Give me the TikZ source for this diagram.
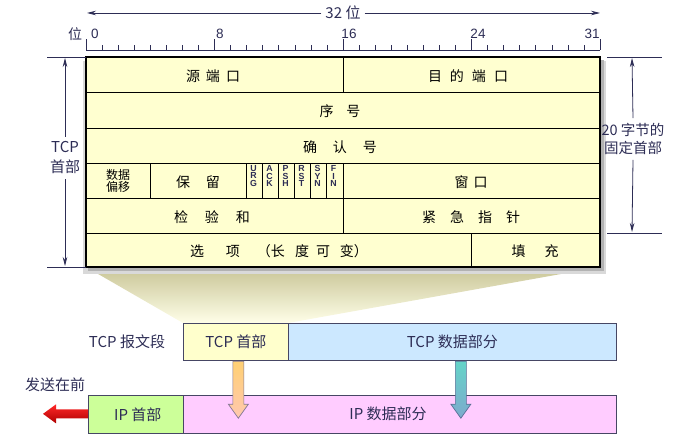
\documentclass[tikz,border=0pt]{standalone}
\usepackage{fontspec}
\setmainfont{Noto Sans CJK SC}
\newfontfamily\flagfont{Liberation Sans}
\usetikzlibrary{arrows.meta,calc}
\definecolor{boxfill}{RGB}{255,255,208}
\definecolor{navy}{RGB}{45,45,85}
\definecolor{tcphead}{RGB}{255,255,204}
\definecolor{tcpdata}{RGB}{204,232,255}
\definecolor{iphead}{RGB}{204,255,153}
\definecolor{ipdata}{RGB}{255,204,255}
\definecolor{edgecol}{RGB}{70,70,100}
\newcommand\gp[1]{\hspace{#1pt}}
\begin{document}
\begin{tikzpicture}[x=1pt,y=-1pt,
  cell/.style={font=\fontsize{14}{16}\selectfont, text=black, inner sep=0pt},
  smallcell/.style={font=\fontsize{12}{12.5}\selectfont, text=black, inner sep=0pt, align=center},
  lbl/.style={font=\fontsize{15}{17}\selectfont, text=navy, inner sep=0pt},
  num/.style={font=\flagfont\fontsize{13.5}{15}\selectfont, text=navy, inner sep=0pt},
  flag/.style={font=\flagfont\bfseries\fontsize{8.8}{7.9}\selectfont, text=navy, align=center, inner sep=0pt},
  dim/.style={navy, line width=0.8pt},
  dimarrow/.style={dim, -{Stealth[length=9pt,width=4.5pt]}},
  gridline/.style={black, line width=0.9pt},
  seg/.style={draw=edgecol, line width=0.7pt, minimum height=37pt, anchor=north west, inner sep=0pt, lbl},
]
\useasboundingbox (0,0) rectangle (677,441);

% fan-out trapezoid
\shade[top color={rgb,255:red,200;green,197;blue,150},
       middle color={rgb,255:red,240;green,238;blue,192},
       bottom color={rgb,255:red,255;green,254;blue,232}]
  (86,267) -- (600,267) -- (288,323) -- (183,323) -- cycle;

% shadow of header box
\fill[gray!30] (83,61) rectangle (606,274);
\fill[gray!60] (88,60) rectangle (604,271);

% header box
\filldraw[fill=boxfill, draw=black, line width=1.6pt] (86,57) rectangle (600,267);
\foreach \yy in {92,128,163,198,233}{\draw[gridline] (86,\yy) -- (600,\yy);}
\draw[gridline] (343,57) -- (343,92);
\draw[gridline] (343,198) -- (343,233);
\draw[gridline] (471.5,233) -- (471.5,267);
\foreach \i in {4,10,11,12,13,14,15,16}{
  \pgfmathsetmacro\xx{86+\i*16.0625}
  \draw[gridline] (\xx,163) -- (\xx,198);
}

% field texts
\node[cell] (src) at (213,76) {源\gp{6}端\gp{6}口};
\node[cell] (dst) at (468,76) {目\gp{8}的\gp{8}端\gp{8}口};
\node[cell] (seq) at (340,111) {序\gp{13}号};
\node[cell] (ack) at (340,147) {确\gp{16}认\gp{16}号};
\node[smallcell] (off) at (118,181) {数据\\偏移};
\node[cell] (res) at (198,182) {保\gp{16}留};
\node[flag] (furg) at (253.5,176) {U\\R\\G};
\node[flag] (fack) at (269.5,176) {A\\C\\K};
\node[flag] (fpsh) at (285.5,176) {P\\S\\H};
\node[flag] (frst) at (301.5,176) {R\\S\\T};
\node[flag] (fsyn) at (317.5,176) {S\\Y\\N};
\node[flag] (ffin) at (333.5,176) {F\\I\\N};
\node[cell] (win) at (471,182) {窗\gp{5}口};
\node[cell] (chk) at (212,217) {检\gp{17}验\gp{17}和};
\node[cell] (urg) at (471,217) {紧\gp{14}急\gp{14}指\gp{14}针};
\node[cell] (opt) at (279,251) {选\gp{22}项\gp{17}（长\gp{10}度\gp{7}可\gp{10}变）};
\node[cell] (pad) at (535,251) {填\gp{19}充};

% ruler
\draw[dim, line width=0.7pt] (86,50) -- (600,50);
\foreach \i in {0,...,32}{
  \pgfmathsetmacro\xx{86+\i*16.0625}
  \pgfmathsetmacro\hh{(mod(\i,8)==0) ? 11 : 5}
  \draw[dim, line width=0.6pt] (\xx,50) -- (\xx,50-\hh);
}
\node[lbl, font=\fontsize{14}{15}\selectfont] (wei) at (75,34) {位};
\node[num] (n0) at (95,34) {0};
\node[num] (n8) at (220,34) {8};
\node[num] (n16) at (349,34) {16};
\node[num] (n24) at (478,34) {24};
\node[num] (n31) at (592,34) {31};

% 32 bit arrow
\node[lbl, inner xsep=4pt] (w32) at (343,13) {32 位};
\coordinate (a32l) at (87,13);
\coordinate (a32r) at (600,13);
\draw[dimarrow] (w32.west) -- (a32l);
\draw[dimarrow] (w32.east) -- (a32r);

% left dimension
\coordinate (lt1) at (47,57); \coordinate (lt2) at (86,57);
\coordinate (lb1) at (47,267); \coordinate (lb2) at (86,267);
\draw[dim] (lt1) -- (lt2);
\draw[dim] (lb1) -- (lb2);
\node[lbl, align=center, font=\fontsize{15}{20}\selectfont, inner ysep=5pt] (tcphd) at (65,158) {TCP\\首部};
\coordinate (ltop) at (65,58);
\coordinate (lbot) at (65,266);
\draw[dimarrow] (tcphd.north) -- (ltop);
\draw[dimarrow] (tcphd.south) -- (lbot);

% right dimension
\coordinate (rt1) at (607,57); \coordinate (rt2) at (662,57);
\coordinate (rb1) at (607,233); \coordinate (rb2) at (662,233);
\draw[dim] (rt1) -- (rt2);
\draw[dim] (rb1) -- (rb2);
\node[lbl, align=center, font=\fontsize{14.5}{18}\selectfont, inner ysep=5pt] (fixed) at (633,139) {20 字节的\\固定首部};
\coordinate (rtop) at (632,58);
\coordinate (rbot) at (632,232);
\draw[dimarrow] (fixed.north) -- (rtop);
\draw[dimarrow] (fixed.south) -- (rbot);

% TCP segment
\node[lbl] (seglbl) at (127,342) {TCP 报文段};
\node[seg, fill=tcphead, minimum width=105pt] (tcph) at (183,323) {TCP 首部};
\node[seg, fill=tcpdata, minimum width=328pt] (tcpd) at (288,323) {TCP 数据部分};

% IP datagram
\node[seg, fill=iphead, minimum width=95pt, minimum height=38pt] (iph) at (88,395) {\hspace{4pt}IP 首部};
\node[seg, fill=ipdata, minimum width=433pt, minimum height=38pt] (ipd) at (183,395) {};
\node[lbl] (ipdl) at (388,414) {IP 数据部分};
\node[lbl] (first) at (55,385) {发送在前};

% mapping arrows
\coordinate (oa) at ($(tcph.south)+(2.5,0.5)$);
\shade[top color={rgb,255:red,255;green,208;blue,115}, bottom color={rgb,255:red,255;green,200;blue,175}, draw={rgb,255:red,130;green,120;blue,150}, line width=0.7pt]
  (oa) ++(-5.5,0) -- ++(11,0) -- ++(0,43) -- ++(4.5,0) -- ++(-10,14) -- ++(-10,-14) -- ++(4.5,0) -- cycle;
\coordinate (ta) at ($(tcpd.south)+(8.5,0.5)$);
\shade[top color={rgb,255:red,100;green,212;blue,200}, bottom color={rgb,255:red,125;green,170;blue,205}, draw={rgb,255:red,90;green,110;blue,150}, line width=0.7pt]
  (ta) ++(-5.5,0) -- ++(11,0) -- ++(0,43) -- ++(4.5,0) -- ++(-10,14) -- ++(-10,-14) -- ++(4.5,0) -- cycle;

% send-first arrow
\coordinate (ra) at ($(iph.west)+(0,-0.5)$);
\shade[top color={rgb,255:red,255;green,40;blue,40}, bottom color={rgb,255:red,175;green,0;blue,0}]
  (ra) ++(0,-4.5) -- ++(-32,0) -- ++(0,-5) -- ++(-13,9.5) -- ++(13,9.5) -- ++(0,-5) -- ++(32,0) -- cycle;
\end{tikzpicture}
\end{document}
